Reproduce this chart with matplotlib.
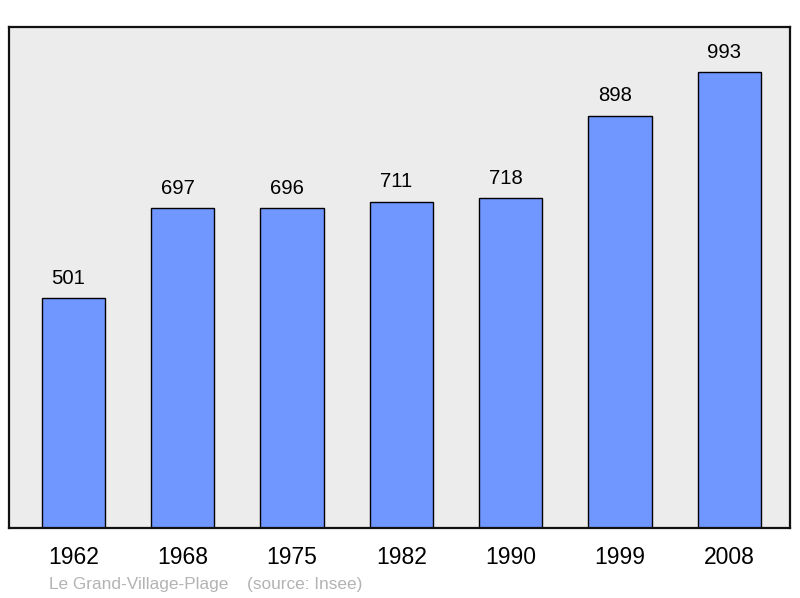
import matplotlib
matplotlib.use("Agg")
import matplotlib.pyplot as plt

years = ["1962", "1968", "1975", "1982", "1990", "1999", "2008"]
population = [501, 697, 696, 711, 718, 898, 993]
place = "Le Grand-Village-Plage"
source = "(source: Insee)"

plt.rcParams['font.family'] = ['Liberation Sans', 'DejaVu Sans']

fig = plt.figure(figsize=(8, 5.98), dpi=100)
ax = fig.add_axes([9/800, 70/598, 781/800, 501/598])
ax.set_facecolor('#ececec')

x = list(range(len(years)))
bars = ax.bar(x, population, width=0.58, color='#7096ff', edgecolor='black', linewidth=1.0, zorder=2)
for xi, v in zip(x, population):
    ax.annotate(str(v), (xi, v), xytext=(-3.7, 7.5), textcoords='offset points',
                ha='center', va='bottom', fontsize=14.6, color='black')

ax.set_xlim(-0.59, 6.555)
ax.set_ylim(0, max(population) * 1.099)
ax.set_xticks(x)
ax.set_xticklabels(years, fontsize=16.5)
ax.tick_params(axis='x', length=0, pad=13)
ax.set_yticks([])
for s in ax.spines.values():
    s.set_linewidth(1.6)
    s.set_color('#111111')

fig.text(49/800, 1 - 584/598, place, fontsize=12.4, color='#b3b3b3',
         ha='left', va='center')
fig.text(247/800, 1 - 584/598, source, fontsize=12.4, color='#b3b3b3',
         ha='left', va='center')

fig.savefig('out.png', dpi=100)
